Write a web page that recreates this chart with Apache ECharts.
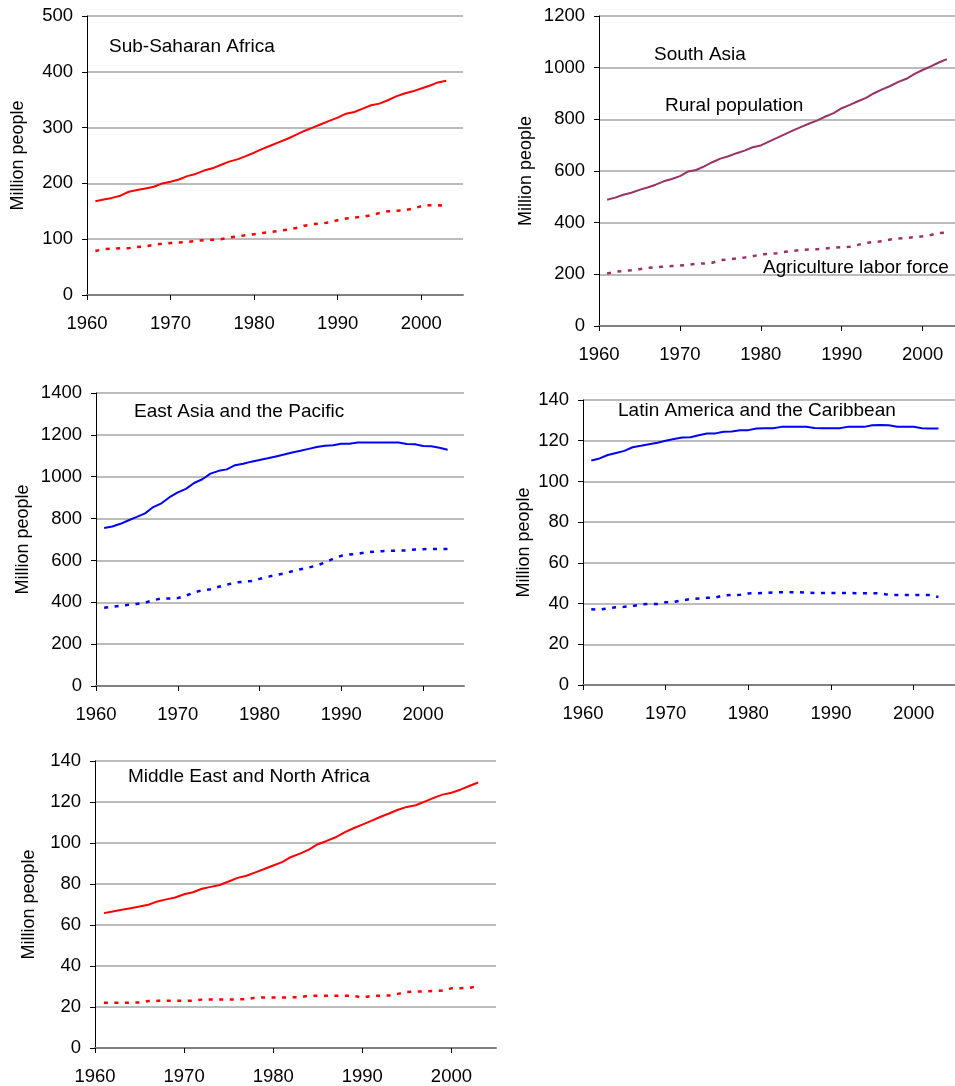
<!DOCTYPE html>
<html>
<head>
<meta charset="utf-8">
<script src="https://cdn.jsdelivr.net/npm/echarts@6/dist/echarts.min.js"></script>
<style>
html,body{margin:0;padding:0;background:#fff;}
#chart{width:955px;height:1086px;}
</style>
</head>
<body>
<div id="chart"></div>
<script>
// ---- data (1961-2003) ----
const years = [];
for (let y = 1961; y <= 2003; y++) years.push(y);

const xTickLabels = [1960, 1970, 1980, 1990, 2000];

const ssaRural = [168,171,174,178,185,188,191,194,200,203,207,213,217,223,227,233,239,243,249,255,262,268,274,280,287,294,300,306,312,318,325,328,334,340,343,349,356,361,365,370,375,381,384];
const ssaLabor = [79,82,83,84,84,86,87,90,92,93,94,95,97,98,99,100,103,105,107,109,111,113,115,117,120,124,127,128,130,134,137,139,140,143,147,150,151,152,155,159,161,161,160];

const saRural = [489,497,508,516,527,536,547,560,569,580,598,604,618,634,648,657,669,679,692,699,714,728,743,757,771,784,796,811,824,843,856,870,883,901,916,929,945,957,976,991,1005,1020,1033];
const saLabor = [203,210,213,216,220,225,228,230,232,234,237,241,242,245,255,258,262,265,270,277,279,282,287,291,294,296,297,300,303,305,307,314,322,325,328,335,339,341,344,347,352,360,362];

const eapRural = [755,762,775,792,808,825,855,873,902,925,942,970,988,1015,1028,1035,1055,1062,1072,1080,1088,1097,1106,1116,1124,1133,1142,1148,1150,1157,1158,1164,1164,1164,1164,1164,1163,1156,1155,1147,1146,1138,1129];
const eapLabor = [374,378,384,388,392,398,410,418,418,420,432,447,458,462,474,484,494,498,502,512,522,530,538,548,558,566,576,590,608,622,628,632,638,642,644,646,647,648,652,654,655,655,655];

const lacRural = [110.3,111.3,113,114,115,116.8,117.5,118.3,119,120,120.8,121.6,121.7,122.7,123.5,123.6,124.4,124.5,125.1,125.2,126,126.1,126.1,126.8,126.9,126.9,126.9,126.2,126.1,126.1,126.1,126.8,126.8,126.8,127.6,127.7,127.6,126.9,126.9,126.9,126.1,126,126];
const lacLabor = [37.2,37,37.6,38.2,38.4,38.8,39.6,39.8,39.8,40.6,40.8,41.6,42.2,42.5,42.8,43,44,44.2,44.3,45,45.1,45.2,45.5,45.6,45.6,45.6,45.4,45.2,45.2,45.2,45.2,45.2,45.1,45.1,45.1,45,44.3,44.2,44.2,44.2,44.2,44.2,43.2];

const menaRural = [65.8,66.6,67.4,68.2,69,69.9,71.5,72.5,73.4,75,76,77.7,78.6,79.5,81.2,83,84,85.7,87.3,89,90.7,93.2,94.8,96.8,99.4,101,102.8,105.2,107.2,109,110.8,112.7,114.4,116.2,117.6,118.4,120.2,122,123.6,124.5,126,127.8,129.5];
const menaLabor = [22.1,22.1,22.1,22.1,22.2,22.9,23,23,23,23,23.1,23.6,23.6,23.6,23.6,23.7,23.8,24.6,24.6,24.6,24.6,24.7,24.7,25.5,25.5,25.5,25.5,25.5,25.5,24.6,25.4,25.5,25.6,26.4,27.3,27.5,27.6,27.8,28,29.1,29.2,29.4,30];

const panelTitles = ['Sub-Saharan Africa', 'South Asia', 'East Asia and the Pacific', 'Latin America and the Caribbean', 'Middle East and North Africa'];
const yMax = [500, 1200, 1400, 140, 140];
const yInterval = [100, 200, 200, 20, 20];
const yName = 'Million people';
const saNotes = ['Rural population', 'Agriculture labor force'];

// ---- layout / style ----
const panels = [
  {left: 87,  top: 16,  width: 376, height: 279, xMax: 2005, color: '#ff0000', rural: ssaRural, labor: ssaLabor, nameGap: 60, title: [109, 48]},
  {left: 599, top: 16,  width: 356, height: 310, xMax: 2004, color: '#993366', rural: saRural,  labor: saLabor,  nameGap: 64, title: [654, 56]},
  {left: 96,  top: 393, width: 368, height: 293, xMax: 2005, color: '#0000ff', rural: eapRural, labor: eapLabor, nameGap: 64, title: [134, 413]},
  {left: 583, top: 400, width: 377, height: 285, xMax: 2005, color: '#0000ff', rural: lacRural, labor: lacLabor, nameGap: 50, title: [618, 412]},
  {left: 95,  top: 761, width: 401, height: 288, xMax: 2005, color: '#ff0000', rural: menaRural, labor: menaLabor, nameGap: 57, title: [128, 778]}
];

const FONT = '"Liberation Sans", Arial, sans-serif';

const grid = [], xAxis = [], yAxis = [], series = [], graphicEls = [];
panels.forEach((p, i) => {
  grid.push({left: p.left, top: p.top, width: p.width, height: p.height, containLabel: false});
  xAxis.push({
    type: 'value', gridIndex: i, min: 1960, max: p.xMax, interval: 10,
    axisLine: {show: true, onZero: false, lineStyle: {color: '#808080', width: 2}},
    axisTick: {show: true, inside: false, length: 5, lineStyle: {color: '#000', width: 1}, customValues: xTickLabels},
    axisLabel: {show: true, margin: 19, color: '#000', fontSize: 18.5, fontFamily: FONT, customValues: xTickLabels, formatter: v => String(v)},
    splitLine: {show: false}
  });
  yAxis.push({
    type: 'value', gridIndex: i, min: 0, max: yMax[i], interval: yInterval[i],
    name: yName, nameLocation: 'middle', nameRotate: 90, nameGap: p.nameGap,
    nameTextStyle: {color: '#000', fontSize: 18, fontFamily: FONT},
    axisLine: {show: true, lineStyle: {color: '#000', width: 1}},
    axisTick: {show: true, inside: false, length: 5, lineStyle: {color: '#000', width: 1}},
    axisLabel: {margin: 14, color: '#000', fontSize: 18.5, fontFamily: FONT, formatter: v => String(v)},
    splitLine: {show: true, lineStyle: {color: '#a6a6a6', width: 1.5}}
  });
  series.push({
    type: 'line', xAxisIndex: i, yAxisIndex: i, showSymbol: false, symbol: 'none', animation: false,
    lineStyle: {color: p.color, width: 2}, data: years.map((y, k) => [y, p.rural[k]]), z: 3
  });
  series.push({
    type: 'line', xAxisIndex: i, yAxisIndex: i, showSymbol: false, symbol: 'none', animation: false,
    lineStyle: {color: p.color, width: 2.5, type: [4, 6.5]}, data: years.map((y, k) => [y, p.labor[k]]), z: 3
  });
  graphicEls.push({type: 'text', left: p.title[0], top: p.title[1] - 11, z: 10,
    style: {text: panelTitles[i], fill: '#000', font: '19px ' + FONT}});
});
graphicEls.push({type: 'text', left: 665, top: 107 - 11, z: 10, style: {text: saNotes[0], fill: '#000', font: '19px ' + FONT}});
graphicEls.push({type: 'text', left: 763, top: 269 - 11, z: 10, style: {text: saNotes[1], fill: '#000', font: '19px ' + FONT}});

const chart = echarts.init(document.getElementById('chart'), null, {renderer: 'canvas'});
chart.setOption({
  animation: false,
  backgroundColor: '#fff',
  grid, xAxis, yAxis, series,
  graphic: graphicEls
});
</script>
</body>
</html>
